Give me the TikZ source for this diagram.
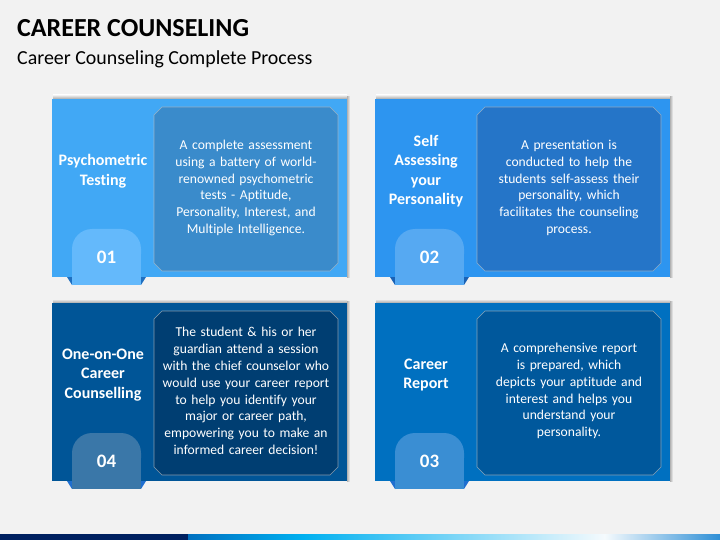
\documentclass[tikz,border=0pt]{standalone}
\usepackage{fontspec}
\setmainfont{Carlito}[Ligatures={NoCommon,NoContextual}]
\definecolor{bg}{HTML}{F2F2F2}
\definecolor{navy}{HTML}{002060}
\definecolor{pA}{HTML}{41A8F5}\definecolor{iA}{HTML}{3A8BCB}\definecolor{tA}{HTML}{64B9FB}\definecolor{fA}{HTML}{1F6FC0}
\definecolor{pB}{HTML}{2D95F0}\definecolor{iB}{HTML}{2575C8}\definecolor{tB}{HTML}{56A9F2}\definecolor{fB}{HTML}{1A62B5}
\definecolor{pC}{HTML}{005597}\definecolor{iC}{HTML}{003E72}\definecolor{tC}{HTML}{3A77A8}\definecolor{fC}{HTML}{1F6FD0}
\definecolor{pD}{HTML}{0070C0}\definecolor{iD}{HTML}{00589C}\definecolor{tD}{HTML}{3A8ED3}\definecolor{fD}{HTML}{1F6FD0}
\tikzset{
  panelbox/.style={rectangle, draw=none, minimum width=295pt, minimum height=178pt, anchor=north west, inner sep=0pt},
  innerline/.style={draw=white!75!black, draw opacity=0.7, line width=0.6pt},
  bodytext/.style={inner sep=0pt, text width=184pt, align=center, text=white,
     font=\fontsize{13.6}{16.8}\selectfont},
  head/.style={text=white, align=center, font=\bfseries\fontsize{16}{19.5}\selectfont, inner sep=0pt},
  num/.style={text=white, font=\bfseries\fontsize{19}{22}\selectfont, inner sep=0pt},
}
% #1 id, #2 L, #3 T, #4 panel, #5 inner, #6 tab, #7 fold, #8 heading, #9 number
\newcommand\mycard[9]{%
  \shade[top color=bg, bottom color=black!35] (#2+1,#3-4) rectangle (#2+295,#3);
  \shade[left color=black!30, right color=bg] (#2+295,#3-2) rectangle (#2+298,#3+178);
  \node[panelbox, fill=#4] (#1panel) at (#2,#3) {};
  \fill[#7] (#2+15,#3+178) -- (#2+20,#3+178) -- (#2+20,#3+186) -- cycle;
  \fill[#7] (#2+94,#3+178) -- (#2+89,#3+178) -- (#2+89,#3+186) -- cycle;
  \fill[#6, rounded corners=20pt] (#2+20,#3+130) rectangle (#2+89,#3+175);
  \fill[#6] (#2+20,#3+155) rectangle (#2+89,#3+186);
  \filldraw[innerline, fill=#5] (#2+110,#3+8) -- (#2+278,#3+8) -- (#2+286,#3+16) -- (#2+286,#3+164)
     -- (#2+278,#3+172) -- (#2+110,#3+172) -- (#2+102,#3+164) -- (#2+102,#3+16) -- cycle;
  \node[head] (#1head) at (#2+51,#3+72) {#8};
  \node[num] (#1num) at (#2+54.5,#3+158) {#9};
}
\begin{document}
\begin{tikzpicture}[x=1pt,y=-1pt]
\fill[bg] (0,0) rectangle (720,540);
\useasboundingbox (0,0) rectangle (720,540);
\node[anchor=base west, inner sep=0pt, font=\bfseries\fontsize{26}{30}\selectfont] (title) at (17,37) {CAREER COUNSELING};
\node[anchor=base west, inner sep=0pt, font=\fontsize{19.9}{22}\selectfont] (subtitle) at (17,65) {Career Counseling Complete Process};

\mycard{a}{52}{99}{pA}{iA}{tA}{fA}{Psychometric\\Testing}{01}
\node[bodytext] (abody) at (246,188) {A complete assessment\\using a battery of world-\\renowned psychometric\\tests - Aptitude,\\Personality, Interest, and\\Multiple Intelligence.};

\mycard{b}{375}{99}{pB}{iB}{tB}{fB}{Self\\Assessing\\your\\Personality}{02}
\node[bodytext] (bbody) at (569,188) {A presentation is\\conducted to help the\\students self-assess their\\personality, which\\facilitates the counseling\\process.};

\mycard{c}{52}{303}{pC}{iC}{tC}{fC}{One-on-One\\Career\\Counselling}{04}
\node[bodytext] (cbody) at (246,391) {The student \& his or her\\guardian attend a session\\with the chief counselor who\\would use your career report\\to help you identify your\\major or career path,\\empowering you to make an\\informed career decision!};

\mycard{d}{375}{303}{pD}{iD}{tD}{fD}{Career\\Report}{03}
\node[bodytext] (dbody) at (569,391) {A comprehensive report\\is prepared, which\\depicts your aptitude and\\interest and helps you\\understand your\\personality.};

% bottom bar
\fill[navy] (0,534) rectangle (188,540);
\shade[left color={rgb,255:red,0;green,112;blue,192}, right color={rgb,255:red,0;green,176;blue,240}] (188,534) rectangle (303,540);
\shade[left color={rgb,255:red,0;green,176;blue,240}, right color={rgb,255:red,245;green,250;blue,253}] (302.5,534) rectangle (605,540);
\shade[left color={rgb,255:red,245;green,250;blue,253}, right color={rgb,255:red,46;green,143;blue,214}] (604.5,534) rectangle (720,540);
\end{tikzpicture}
\end{document}
